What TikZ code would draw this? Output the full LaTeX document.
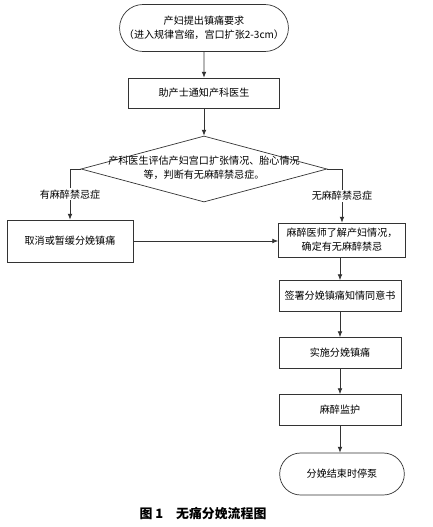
\documentclass[tikz,border=0pt]{standalone}
\usepackage{fontspec}
\setmainfont{Noto Sans CJK SC}
\usetikzlibrary{arrows.meta}
\usetikzlibrary{shapes.geometric}
\usetikzlibrary{shapes.misc}

\tikzset{
    box/.style={draw, rectangle, align=center, inner sep=1pt, font=\fontsize{8.6}{12}\selectfont},
    endcap/.style={draw, rounded rectangle, align=center, inner sep=1pt, font=\fontsize{8.6}{12}\selectfont},
    flow/.style={-{Latex[length=5pt,width=4pt]}},
    cond/.style={fill=white, inner sep=1pt, font=\fontsize{8.6}{12}\selectfont}
}

\begin{document}
\begin{tikzpicture}[x=0.03cm, y=-0.03cm, line width=0.6pt, draw=black!80]
        \useasboundingbox (0,0) rectangle (433,527);
        % start and first step
        \node [endcap, minimum width=4.65cm, minimum height=1.41cm] (start) at (204, 28) {产妇提出镇痛要求\\（进入规律宫缩，宫口扩张2-3cm）};
        \node [box, minimum width=4.53cm, minimum height=0.9cm] (notify) at (204, 93) {助产士通知产科医生};
        % decision
        \node [draw, diamond, inner sep=0, minimum width=7.38cm, minimum height=1.98cm] (judge) at (204, 169) {};
        \node [align=center, font=\fontsize{8.6}{12}\selectfont] (judgetext) at (204, 168) {产科医生评估产妇宫口扩张情况、胎心情况\\等，判断有无麻醉禁忌症。};
        % the two branches
        \node [box, minimum width=3.78cm, minimum height=1.26cm] (cancel) at (70, 241) {取消或暂缓分娩镇痛};
        \node [box, minimum width=3.81cm, minimum height=1.02cm] (anest) at (342, 240) {麻醉医师了解产妇情况，\\确定有无麻醉禁忌};
        % right column
        \node [box, minimum width=3.66cm, minimum height=0.93cm] (sign) at (340, 296) {签署分娩镇痛知情同意书};
        \node [box, minimum width=3.66cm, minimum height=0.93cm] (act) at (340, 353) {实施分娩镇痛};
        \node [box, minimum width=3.66cm, minimum height=0.93cm] (monitor) at (340, 410) {麻醉监护};
        \node [endcap, minimum width=3.81cm, minimum height=1.26cm] (stop) at (342, 474) {分娩结束时停泵};
        % caption
        \node [font=\fontsize{11}{13}\selectfont\bfseries] (caption) at (203, 514) {图 1\quad 无痛分娩流程图};

        \draw [flow] (start) -- (notify);
        \draw [flow] (notify) -- (judge.north);
        \draw [flow] (judge.west) -| node [cond, pos=0.75] {有麻醉禁忌症} (cancel.north);
        \draw [flow] (judge.east) -| node [cond, pos=0.75] {无麻醉禁忌症} (anest.north);
        \draw [flow] (cancel.east) -- (cancel.east -| anest.west);
        \draw [flow] (anest.south -| sign.north) -- (sign.north);
        \draw [flow] (sign) -- (act);
        \draw [flow] (act) -- (monitor);
        \draw [flow] (monitor.south) -- (monitor.south |- stop.north);
    \end{tikzpicture}
\end{document}
